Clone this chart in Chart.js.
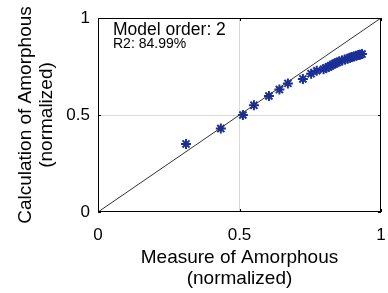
<!DOCTYPE html>
<html>
<head>
<meta charset="utf-8">
<script src="https://cdn.jsdelivr.net/npm/chart.js@4/dist/chart.umd.min.js"></script>
<style>
  html, body { margin: 0; padding: 0; background: #fff; }
  #wrap { width: 388px; height: 293px; }
</style>
</head>
<body>
<div id="wrap"><canvas id="chart"></canvas></div>
<script>
const measured = [0.311, 0.434, 0.512, 0.551, 0.604, 0.641, 0.671, 0.724, 0.753, 0.773,
  0.797, 0.805, 0.815, 0.822, 0.830, 0.837, 0.845, 0.852, 0.863, 0.872, 0.882, 0.890, 0.897, 0.904, 0.913, 0.920, 0.926, 0.933];
const calculated = [0.351, 0.430, 0.500, 0.550, 0.598, 0.631, 0.663, 0.686, 0.713, 0.728,
  0.736, 0.742, 0.748, 0.754, 0.760, 0.766, 0.771, 0.776, 0.781, 0.786, 0.790, 0.795, 0.799, 0.802, 0.806, 0.809, 0.811, 0.814];
const diagonal = [0, 1];
const tickValues = [0, 0.5, 1];
const infoLines = ["Model order: 2", "R2: 84.99%"];
const xTitle = ["Measure of Amorphous", "(normalized)"];
const yTitle = ["Calculation of Amorphous", "(normalized)"];

const FONT = "'Liberation Sans', Arial, sans-serif";
const points = measured.map((x, i) => ({ x, y: calculated[i] }));
const diagPoints = diagonal.map((v) => ({ x: v, y: v }));

// box, inner ticks and the text block inside the axes
const boxPlugin = {
  id: "box",
  afterDatasetsDraw(chart) {
    const { ctx, chartArea: a, scales } = chart;
    ctx.save();
    ctx.strokeStyle = "#000";
    ctx.lineWidth = 1;
    ctx.strokeRect(a.left + 0.5, a.top + 0.5, a.right - a.left - 1, a.bottom - a.top - 1);
    ctx.beginPath();
    tickValues.forEach((v) => {
      const px = Math.round(scales.x.getPixelForValue(v)) + 0.5;
      const py = Math.round(scales.y.getPixelForValue(v)) + 0.5;
      ctx.moveTo(px, a.bottom); ctx.lineTo(px, a.bottom - 3);
      ctx.moveTo(px, a.top); ctx.lineTo(px, a.top + 3);
      ctx.moveTo(a.left, py); ctx.lineTo(a.left + 3, py);
      ctx.moveTo(a.right, py); ctx.lineTo(a.right - 3, py);
    });
    ctx.stroke();
    ctx.fillStyle = "#000";
    ctx.textBaseline = "alphabetic";
    ctx.font = "17.5px " + FONT;
    ctx.fillText(infoLines[0], a.left + 15, a.top + 17);
    ctx.font = "14px " + FONT;
    ctx.fillText(infoLines[1], a.left + 15, a.top + 30);
    ctx.restore();
  },
};

new Chart(document.getElementById("chart"), {
  type: "scatter",
  data: {
    datasets: [
      {
        type: "line",
        data: diagPoints,
        borderColor: "#333",
        borderWidth: 1,
        pointRadius: 0,
        fill: false,
      },
      {
        data: points,
        pointStyle: "star",
        pointRadius: 5,
        borderColor: "#1a2f96",
        backgroundColor: "#1a2f96",
        borderWidth: 2,
      },
    ],
  },
  options: {
    responsive: true,
    maintainAspectRatio: false,
    animation: false,
    layout: { padding: { top: 18, right: 5, left: 0, bottom: 0 } },
    plugins: { legend: { display: false }, tooltip: { enabled: false } },
    scales: {
      x: {
        type: "linear",
        min: 0,
        max: 1,
        afterBuildTicks: (s) => { s.ticks = tickValues.map((value) => ({ value })); },
        afterFit: (s) => {
          s.height = 81;
          s.paddingLeft = 0;
          s.paddingRight = 0;
        },
        ticks: {
          color: "#000",
          font: { family: FONT, size: 17 },
          padding: 13,
          maxRotation: 0,
          callback: (v) => String(v),
        },
        grid: {
          color: (c) => (c.tick && c.tick.value === 0.5 ? "#d9d9d9" : "rgba(0,0,0,0)"),
          drawTicks: false,
        },
        border: { display: false },
        title: {
          display: true,
          text: xTitle,
          color: "#000",
          font: { family: FONT, size: 19, lineHeight: 1.1 },
          padding: { top: 8, bottom: 4 },
        },
      },
      y: {
        type: "linear",
        min: 0,
        max: 1,
        afterBuildTicks: (s) => { s.ticks = tickValues.map((value) => ({ value })); },
        afterFit: (s) => {
          s.width = 98;
          s.paddingTop = 0;
          s.paddingBottom = 0;
        },
        ticks: {
          color: "#000",
          font: { family: FONT, size: 17 },
          padding: 8,
          callback: (v) => String(v),
        },
        grid: {
          color: (c) => (c.tick && c.tick.value === 0.5 ? "#d9d9d9" : "rgba(0,0,0,0)"),
          drawTicks: false,
        },
        border: { display: false },
        title: {
          display: true,
          text: yTitle,
          color: "#000",
          font: { family: FONT, size: 19, lineHeight: 1.1 },
          padding: { top: 15, bottom: 0 },
        },
      },
    },
  },
  plugins: [boxPlugin],
});
</script>
</body>
</html>
